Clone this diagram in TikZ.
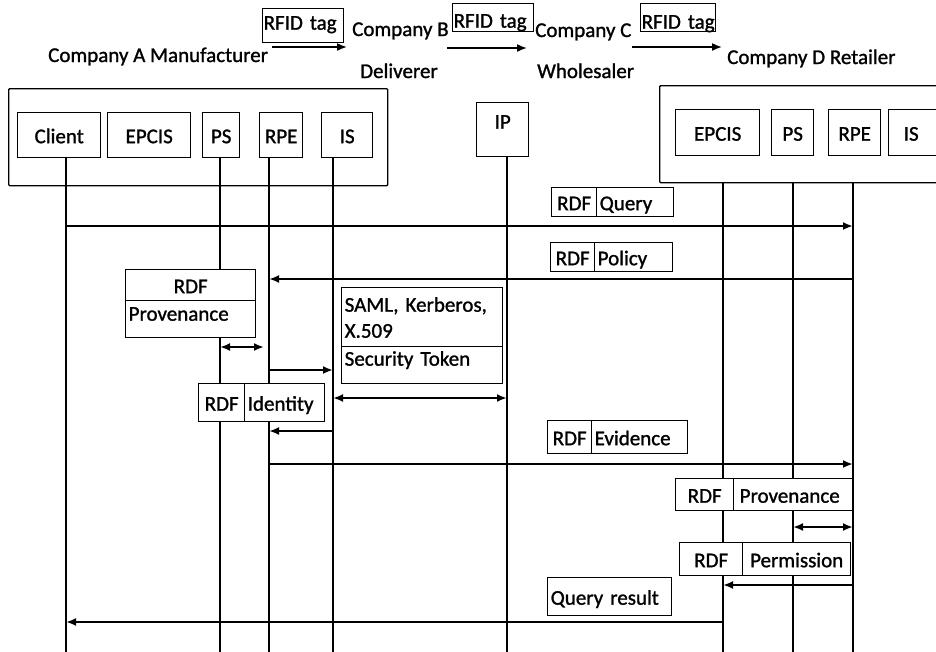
\documentclass[tikz,border=0pt]{standalone}
\usepackage{fontspec}
\setmainfont{Carlito}[BoldFont=Carlito, BoldFeatures={FakeBold=1.2}]
\usetikzlibrary{arrows.meta}
\begin{document}
\begin{tikzpicture}[x=1pt,y=-1pt,
  font=\fontsize{21}{26}\selectfont\bfseries,
  box/.style={draw, line width=1.4pt, fill=white, inner sep=2pt, anchor=north west, text height=16pt, text depth=0pt},
  lbox/.style={box, inner xsep=3pt, align=left},
  frame/.style={draw, line width=1.4pt, rounded corners=1pt, anchor=north west, inner sep=0pt},
  life/.style={line width=1.3pt},
  msg/.style={line width=2pt, -{Latex[length=10pt,width=8pt]}},
  dmsg/.style={line width=2pt, {Latex[length=10pt,width=8pt]}-{Latex[length=10pt,width=8pt]}},
  toparr/.style={line width=1.6pt, -{Latex[length=10pt,width=8pt]}},
  txt/.style={inner sep=0pt, anchor=base west},
  tag/.style={draw, line width=1.3pt, anchor=north west, inner xsep=1pt, inner ysep=1pt, align=left},
]
\useasboundingbox (0,0) rectangle (936,651);

% ---------- top supply chain ----------
\node[txt] (ca) at (48,62) {Company A Manufacturer};
\node[tag, text width=79, text height=20, text depth=12] (tag1) at (262,8) {\mbox{RFID tag}};
\node[txt] (cb) at (352,36) {Company B};
\node[txt] (deliv) at (360,78) {Deliverer};
\node[tag, text width=79, text height=23, text depth=3] (tag2) at (452,3) {\mbox{RFID tag}};
\node[txt] (cc) at (535,37) {Company C};
\node[txt] (whole) at (537,78) {Wholesaler};
\node[tag, text width=73, text height=24, text depth=2] (tag3) at (640,3) {\mbox{RFID tag}};
\node[txt] (cd) at (727,64) {Company D Retailer};
\coordinate (t1s) at (272,47); \coordinate (t1e) at (347,47);
\coordinate (t2s) at (447,48); \coordinate (t2e) at (527,48);
\coordinate (t3s) at (632,47); \coordinate (t3e) at (722,47);
\draw[toparr] (t1s) -- (t1e);
\draw[toparr] (t2s) -- (t2e);
\draw[toparr] (t3s) -- (t3e);

% ---------- participants ----------
\node[frame, minimum width=379, minimum height=97] (bigL) at (8,88) {};
\node[box, minimum width=83, minimum height=45] (client) at (17,112) {Client};
\node[box, minimum width=83, minimum height=45] (epcisL) at (107,112) {EPCIS};
\node[box, minimum width=37, minimum height=45] (psL) at (202,112) {PS};
\node[box, minimum width=43, minimum height=45] (rpeL) at (259,112) {RPE};
\node[box, minimum width=51, minimum height=45] (isL) at (321,112) {IS};

\node[box, minimum width=52, text height=24, text depth=26] (ip) at (476,102) {IP};

\node[frame, minimum width=300, minimum height=97] (bigR) at (659,85) {};
\node[box, minimum width=84, minimum height=46] (epcisR) at (675,109) {EPCIS};
\node[box, minimum width=42, minimum height=46] (psR) at (771,109) {PS};
\node[box, minimum width=52, minimum height=46] (rpeR) at (828,109) {RPE};
\node[box, inner xsep=15pt, text width=40, minimum height=46, align=left] (isR) at (888,109) {IS};

% ---------- lifelines ----------
\coordinate (clB) at (66,655);
\coordinate (plB) at (220,655);
\coordinate (rlB) at (269,655);
\coordinate (ilB) at (333,655);
\coordinate (ipB) at (507,655);
\coordinate (erB) at (723,655);
\coordinate (prB) at (793,655);
\coordinate (rrB) at (853,655);
\draw[life] (client.south -| clB) -- (clB);
\draw[life] (psL.south -| plB) -- (plB);
\draw[life] (rpeL.south -| rlB) -- (rlB);
\draw[life] (isL.south -| ilB) -- (ilB);
\draw[life] (ip.south -| ipB) -- (ipB);
\draw[life] (bigR.south -| erB) -- (erB);
\draw[life] (bigR.south -| prB) -- (prB);
\draw[life] (bigR.south -| rrB) -- (rrB);

% ---------- messages ----------
\draw[msg] (clB |- 0,226) -- (rrB |- 0,226);
\draw[msg] (rrB |- 0,279) -- (rlB |- 0,279);
\draw[dmsg] (plB |- 0,347) -- ([xshift=-5pt]rlB |- 0,347);
\draw[msg] (rlB |- 0,370) -- (ilB |- 0,370);
\draw[dmsg] (ilB |- 0,398) -- (ipB |- 0,398);
\draw[msg] (ilB |- 0,431) -- (rlB |- 0,431);
\draw[msg] (rlB |- 0,464) -- (rrB |- 0,464);
\draw[dmsg] (prB |- 0,527) -- (rrB |- 0,527);
\draw[msg] (rrB |- 0,585) -- (erB |- 0,585);
\draw[msg] (erB |- 0,622) -- (clB |- 0,622);

% ---------- message payloads ----------
\node[box, minimum width=45, minimum height=29] (qrdf) at (551,187) {RDF};
\node[lbox, text width=71, minimum height=29] (qtxt) at (596,187) {Query};

\node[box, minimum width=44, minimum height=29] (prdf) at (550,242) {RDF};
\node[lbox, text width=72, minimum height=29] (ptxt) at (594,242) {Policy};

\node[box, minimum width=130, minimum height=31] (lprdf) at (125,269) {RDF};
\node[lbox, text width=124, text height=18, text depth=15] (lprov) at (125,300) {Provenance};

\node[lbox, text width=155, minimum height=59, text height=20, text depth=31] (saml) at (341,287) {\mbox{SAML, Kerberos,}\\\mbox{X.509}};
\node[lbox, text width=155, text height=17, text depth=16] (sectok) at (341,346) {\mbox{Security Token}};

\node[box, minimum width=46, minimum height=38] (irdf) at (198,383) {RDF};
\node[lbox, text width=74, minimum height=38] (itxt) at (244,383) {Identity};

\node[box, minimum width=44, minimum height=33] (erdf) at (547,420) {RDF};
\node[lbox, text width=90, minimum height=33] (etxt) at (591,420) {Evidence};

\node[box, minimum width=58, minimum height=32] (rprdf) at (675,478) {RDF};
\node[lbox, inner xsep=6pt, text width=107, minimum height=32] (rprov) at (733,478) {Provenance};

\node[box, minimum width=63, minimum height=33] (perdf) at (679,542) {RDF};
\node[box, minimum width=108, minimum height=33] (petxt) at (742,542) {Permission};

\node[lbox, text width=118, minimum height=38] (qres) at (547,577) {\mbox{Query result}};
\end{tikzpicture}
\end{document}
